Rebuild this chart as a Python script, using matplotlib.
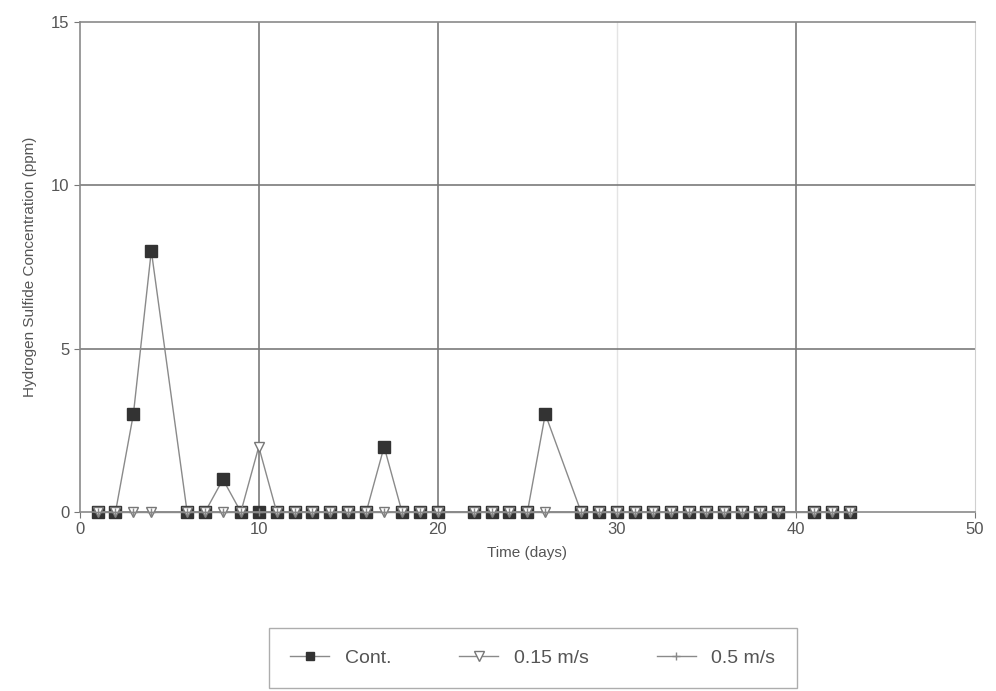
import numpy as np
import matplotlib
matplotlib.use("Agg")
import matplotlib.pyplot as plt

plt.rcParams['font.family'] = ['Liberation Sans', 'DejaVu Sans']

days = [1, 2, 3, 4, 6, 7, 8, 9, 10, 11, 12, 13, 14, 15, 16, 17, 18, 19, 20,
        22, 23, 24, 25, 26, 28, 29, 30, 31, 32, 33, 34, 35, 36, 37, 38, 39,
        41, 42, 43]
cont = [0, 0, 3, 8, 0, 0, 1, 0, 0, 0, 0, 0, 0, 0, 0, 2, 0, 0, 0,
        0, 0, 0, 0, 3, 0, 0, 0, 0, 0, 0, 0, 0, 0, 0, 0, 0,
        0, 0, 0]
v015 = [0, 0, 0, 0, 0, 0, 0, 0, 2, 0, 0, 0, 0, 0, 0, 0, 0, 0, 0,
        0, 0, 0, 0, 0, 0, 0, 0, 0, 0, 0, 0, 0, 0, 0, 0, 0,
        0, 0, 0]
v05 = [0] * len(days)
labels = ["Cont.", "0.15 m/s", "0.5 m/s"]

fig = plt.figure(figsize=(9.96, 6.91), dpi=100)
ax = fig.add_axes([0.080, 0.259, 0.899, 0.709])

line_c = '#8a8a8a'
txt_c = '#555555'

ax.set_xlim(0, 50)
ax.set_ylim(0, 15)
ax.set_xticks([0, 10, 20, 30, 40, 50])
ax.set_yticks([0, 5, 10, 15])

for x in [10, 20, 40]:
    ax.axvline(x, color='#7a7a7a', lw=1.2, zorder=1)
ax.axvline(30, color='#e4e4e4', lw=1.0, zorder=1)
for y in [5, 10]:
    ax.axhline(y, color='#7a7a7a', lw=1.2, zorder=1)

for s in ['left', 'bottom', 'top']:
    ax.spines[s].set_color('#8a8a8a')
    ax.spines[s].set_linewidth(1.2)
ax.spines['right'].set_color('#d0d0d0')

ax.plot(days, cont, '-', color=line_c, lw=1.0, marker='s', ms=9,
        mfc='#333333', mec='#333333', label=labels[0], zorder=2,
        clip_on=False)
ax.plot(days, v015, '-', color=line_c, lw=1.0, marker='v', ms=7,
        mfc='white', mec='#777777', mew=1.0, label=labels[1], zorder=4,
        clip_on=False)
ax.plot(days, v05, '-', color=line_c, lw=1.0, marker='+', ms=6,
        mec='#888888', mew=1.0, label=labels[2], zorder=5, clip_on=False)

ax.tick_params(colors='#777777', labelcolor=txt_c, labelsize=12, length=4)
ax.set_xlabel("Time (days)", fontsize=11, color=txt_c, labelpad=6)
ax.set_ylabel("Hydrogen Sulfide Concentration (ppm)", fontsize=11,
              color=txt_c, labelpad=10)

h, l = ax.get_legend_handles_labels()
leg = fig.legend(h, l, loc='center', bbox_to_anchor=(0.535, 0.048), ncol=3,
                 frameon=True, fancybox=False, fontsize=14,
                 handlelength=2.0, columnspacing=3.5, borderpad=1.1,
                 borderaxespad=0, edgecolor='#999999')
leg.legend_handles[0].set_markersize(6)
for t in leg.get_texts():
    t.set_color(txt_c)

fig.savefig("out.png", dpi=100, facecolor='white')
